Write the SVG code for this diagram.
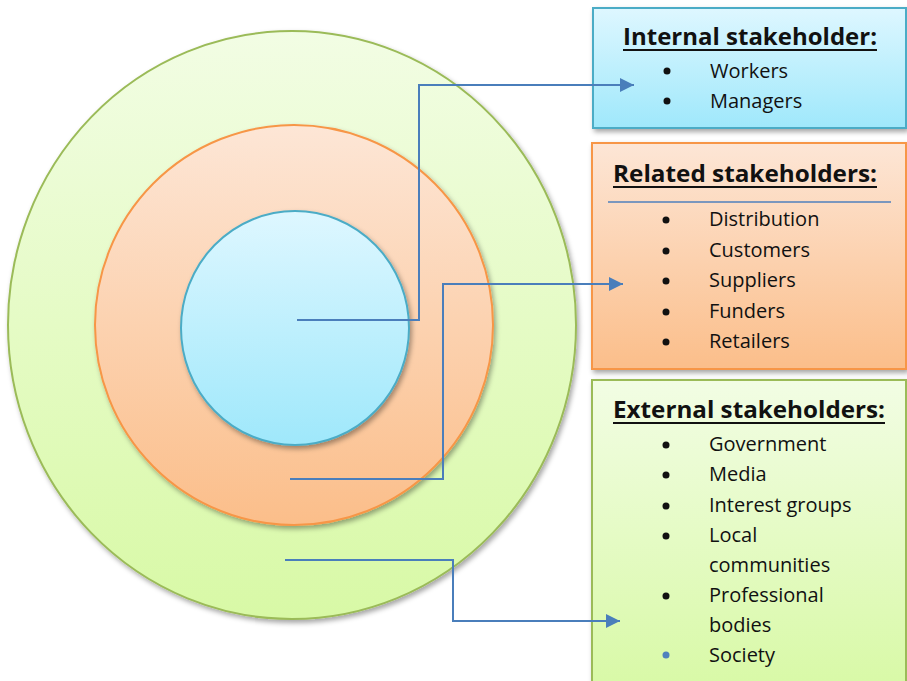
<svg xmlns="http://www.w3.org/2000/svg" width="907" height="681" viewBox="0 0 907 681">
<defs>
<style>
.t{font-family:"Open Sans","Noto Sans","Liberation Sans",sans-serif;font-size:20px;fill:#111}
.h{font-family:"Open Sans","Noto Sans","Liberation Sans",sans-serif;font-size:23px;font-weight:bold;fill:#111}
.ul{stroke:#111;stroke-width:2}
.con{fill:none;stroke:#4a7ebb;stroke-width:2}
.b{fill:#111}
</style>
<linearGradient id="gG" x1="0" y1="0" x2="0" y2="1"><stop offset="0" stop-color="#f2fde4"/><stop offset="1" stop-color="#d8f9a6"/></linearGradient>
<linearGradient id="gO" x1="0" y1="0" x2="0" y2="1"><stop offset="0" stop-color="#fde6d6"/><stop offset="1" stop-color="#fbbe8a"/></linearGradient>
<linearGradient id="gB" x1="0" y1="0" x2="0" y2="1"><stop offset="0" stop-color="#def7ff"/><stop offset="1" stop-color="#9fe8fb"/></linearGradient>
<filter id="sh" x="-10%" y="-10%" width="125%" height="125%"><feDropShadow dx="2" dy="3" stdDeviation="2.5" flood-color="#000" flood-opacity="0.35"/></filter>
<marker id="arr" viewBox="0 0 10 10" refX="10" refY="5" markerWidth="7" markerHeight="7" markerUnits="strokeWidth" orient="auto"><path d="M0,0 L10,5 L0,10 z" fill="#4a7ebb"/></marker>
</defs>
<g id="circle-external"><ellipse cx="292" cy="325" rx="284" ry="294" fill="url(#gG)" stroke="#9bbb59" stroke-width="2" filter="url(#sh)"/></g>
<g id="circle-related"><ellipse cx="294" cy="325" rx="199" ry="200" fill="url(#gO)" stroke="#f79646" stroke-width="2" filter="url(#sh)"/></g>
<g id="circle-internal"><ellipse cx="295" cy="328" rx="114" ry="117" fill="url(#gB)" stroke="#4bacc6" stroke-width="2" filter="url(#sh)"/></g>
<g id="box-internal">
<rect x="593" y="8" width="313" height="120" fill="url(#gB)" stroke="#4bacc6" stroke-width="2" filter="url(#sh)"/>
<text class="h" x="623" y="45" textLength="254" lengthAdjust="spacingAndGlyphs">Internal stakeholder:</text>
<line class="ul" x1="623" y1="50" x2="877" y2="50"/>
<circle class="b" cx="667" cy="71" r="3.5"/><text class="t" x="710" y="78">Workers</text>
<circle class="b" cx="667" cy="101" r="3.5"/><text class="t" x="710" y="108">Managers</text>
</g>
<g id="box-related">
<rect x="592" y="143" width="314" height="226" fill="url(#gO)" stroke="#f79646" stroke-width="2" filter="url(#sh)"/>
<text class="h" x="613" y="182" textLength="264" lengthAdjust="spacingAndGlyphs">Related stakeholders:</text>
<line class="ul" x1="613" y1="187" x2="877" y2="187"/>
<line x1="608" y1="202" x2="891" y2="202" stroke="#4f81bd" stroke-width="1.5"/>
<circle class="b" cx="666" cy="220" r="3.5"/><text class="t" x="709" y="226">Distribution</text>
<circle class="b" cx="666" cy="251" r="3.5"/><text class="t" x="709" y="257">Customers</text>
<circle class="b" cx="666" cy="281" r="3.5"/><text class="t" x="709" y="287">Suppliers</text>
<circle class="b" cx="666" cy="312" r="3.5"/><text class="t" x="709" y="318">Funders</text>
<circle class="b" cx="666" cy="342" r="3.5"/><text class="t" x="709" y="348">Retailers</text>
</g>
<g id="box-external">
<rect x="592" y="380" width="314" height="310" fill="url(#gG)" stroke="#9bbb59" stroke-width="2" filter="url(#sh)"/>
<text class="h" x="613" y="418" textLength="272" lengthAdjust="spacingAndGlyphs">External stakeholders:</text>
<line class="ul" x1="613" y1="423" x2="885" y2="423"/>
<circle class="b" cx="666" cy="445" r="3.5"/><text class="t" x="709" y="451">Government</text>
<circle class="b" cx="666" cy="475" r="3.5"/><text class="t" x="709" y="481">Media</text>
<circle class="b" cx="666" cy="506" r="3.5"/><text class="t" x="709" y="512">Interest groups</text>
<circle class="b" cx="666" cy="536" r="3.5"/><text class="t" x="709" y="542">Local</text>
<text class="t" x="709" y="572">communities</text>
<circle class="b" cx="666" cy="596" r="3.5"/><text class="t" x="709" y="602">Professional</text>
<text class="t" x="709" y="632">bodies</text>
<circle cx="666" cy="655" r="3.5" fill="#4f81bd"/><text class="t" x="709" y="662">Society</text>
</g>
<g id="connectors">
<path class="con" d="M297,320 H419 V85 H634" marker-end="url(#arr)"/>
<path class="con" d="M290,479 H443 V284 H623" marker-end="url(#arr)"/>
<path class="con" d="M285,560 H453 V621 H620" marker-end="url(#arr)"/>
</g>
</svg>
